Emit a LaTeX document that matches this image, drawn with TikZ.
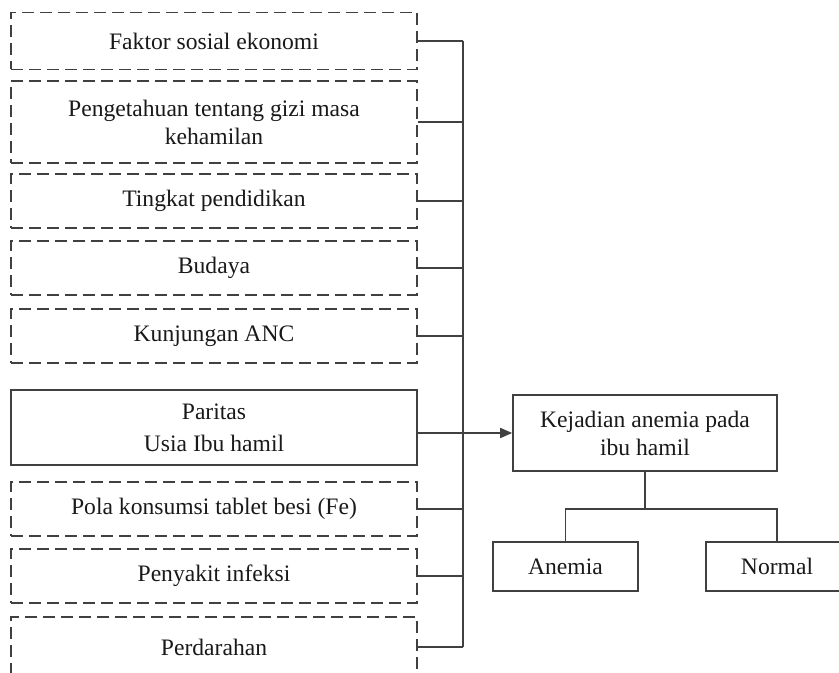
\documentclass[tikz,border=0pt]{standalone}
\usepackage{fontspec}
\setmainfont{Liberation Serif}
\usetikzlibrary{arrows.meta}

\tikzset{
  factor/.style={draw=black!75, dash pattern=on 6pt off 3pt, minimum width=203pt,
    align=center, inner sep=0pt},
  outcome/.style={draw=black!75, align=center, inner sep=0pt},
  link/.style={draw=black!75}
}

\begin{document}
\begin{tikzpicture}[x=0.5pt, y=-0.5pt, line width=0.8pt,
  every node/.style={font=\rmfamily\fontsize{11.8}{14}\selectfont, text=black!90}]

\useasboundingbox (0,0) rectangle (839,673);
\clip (0,0) rectangle (839,673);

% faktor-faktor (kotak kiri)
\node [factor, minimum height=28.5pt] (fse) at (214,41) {Faktor sosial ekonomi};
\node [factor, minimum height=41pt] (fgz) at (214,122)
  {Pengetahuan tentang gizi masa\\kehamilan};
\node [factor, minimum height=27pt] (fpd) at (214,201) {Tingkat pendidikan};
\node [factor, minimum height=27pt] (fbd) at (214,268) {Budaya};
\node [factor, minimum height=27pt] (fanc) at (214,336) {Kunjungan ANC};
\node [outcome, minimum width=203pt, minimum height=37.5pt] (fpar) at (214,427.5)
  {Paritas\\[2pt]Usia Ibu hamil};
\node [factor, minimum height=27pt] (ffe) at (214,509) {Pola konsumsi tablet besi (Fe)};
\node [factor, minimum height=27pt] (finf) at (214,576) {Penyakit infeksi};
\node [factor, minimum height=30pt] (fdar) at (214,647) {Perdarahan};

% kejadian anemia
\node [outcome, minimum width=132pt, minimum height=38pt] (kej) at (645,433)
  {Kejadian anemia pada\\ibu hamil};
\node [outcome, minimum width=72.5pt, minimum height=24.5pt] (ane) at (565.5,566.5) {Anemia};
\node [outcome, minimum width=71pt, minimum height=24.5pt] (nor) at (777,566.5) {Normal};

\coordinate (bus) at (463,0);

\begin{scope}[link]
  \foreach \f in {fse,fgz,fpd,fbd,fanc,ffe,finf,fdar}
    \draw (\f.east) -- (\f.east -| bus);
  \draw (fse.east -| bus) -- (fdar.east -| bus);
  \draw [-{Triangle[length=6pt,width=5pt]}] (kej.west -| fpar.east) -- (kej.west);
  \draw (kej.south) -- ++(0,37) coordinate (split);
  \draw (ane.north) |- (split) -| (nor.north);
\end{scope}

\end{tikzpicture}
\end{document}
